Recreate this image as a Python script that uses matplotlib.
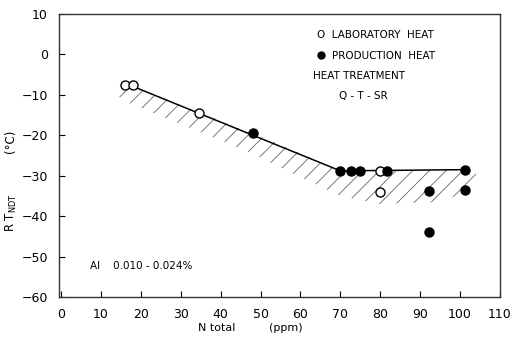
import matplotlib
matplotlib.use("Agg")
import matplotlib.pyplot as plt

# Data
lab_x = [16, 18, 34.5, 80, 80]
lab_y = [-7.5, -7.5, -14.5, -28.8, -34]
prod_x = [48, 69.8, 72.6, 74.8, 81.8, 101.2, 92.2, 101.2, 92.2]
prod_y = [-19.5, -28.8, -28.8, -28.8, -28.8, -28.5, -33.7, -33.5, -44]
trend_x = [17, 70, 101.2]
trend_y = [-7.5, -28.8, -28.5]
band_x = [13, 17, 48, 55, 70, 80, 95, 104]
band_upper = [-8.2, -7.5, -19.5, -22.3, -28.8, -28.7, -28.6, -28.5]
band_lower = [-9.5, -12, -24.5, -28, -35, -37, -36.5, -33]
xticks = [0, 10, 20, 30, 40, 50, 60, 70, 80, 90, 100, 110]
yticks = [10, 0, -10, -20, -30, -40, -50, -60]

plt.rcParams['hatch.linewidth'] = 0.6
plt.rcParams['hatch.color'] = '#666666'

fig = plt.figure(figsize=(5.14, 3.47), dpi=100)
ax = fig.add_axes([59/514, 1-297/347, (500-59)/514, (297-14)/347])

ax.fill_between(band_x, band_lower, band_upper, facecolor='none',
                edgecolor='#666666', hatch='//', linewidth=0)
ax.plot(trend_x, trend_y, color='black', lw=1.1, zorder=3)
ax.plot(lab_x, lab_y, 'o', mfc='white', mec='black', mew=1.0, ms=6.5, zorder=4)
ax.plot(prod_x, prod_y, 'o', mfc='black', mec='black', ms=6.5, zorder=4)

ax.set_xlim(-0.5, 109.5)
ax.set_ylim(-60, 10)
ax.set_xticks(xticks)
ax.set_yticks(yticks)
ax.tick_params(direction='in', length=4, width=0.8, labelsize=9, pad=8,
               top=False, right=False)
for s in ax.spines.values():
    s.set_linewidth(1.0)
    s.set_color('#333333')

ax.text(0.585, 0.915, 'O  LABORATORY  HEAT', transform=ax.transAxes, fontsize=7.5)
ax.plot([0.595], [0.855], 'o', transform=ax.transAxes, color='black', ms=5)
ax.text(0.62, 0.84, 'PRODUCTION  HEAT', transform=ax.transAxes, fontsize=7.5)
ax.text(0.575, 0.77, 'HEAT TREATMENT', transform=ax.transAxes, fontsize=7.5)
ax.text(0.635, 0.70, 'Q - T - SR', transform=ax.transAxes, fontsize=7.5)
ax.text(0.07, 0.10, 'Al    0.010 - 0.024%', transform=ax.transAxes, fontsize=7.5)

fig.text(217/514, 1-328/347, 'N total', fontsize=8, ha='center', va='center')
fig.text(286/514, 1-328/347, '(ppm)', fontsize=8, ha='center', va='center')
fig.text(11/514, 1-213/347, r'R T$_{\rm NDT}$', fontsize=8.5, rotation=90, ha='center', va='center')
fig.text(11/514, 1-141/347, '(°C)', fontsize=8.5, rotation=90, ha='center', va='center')

fig.savefig('out.png', dpi=100)
